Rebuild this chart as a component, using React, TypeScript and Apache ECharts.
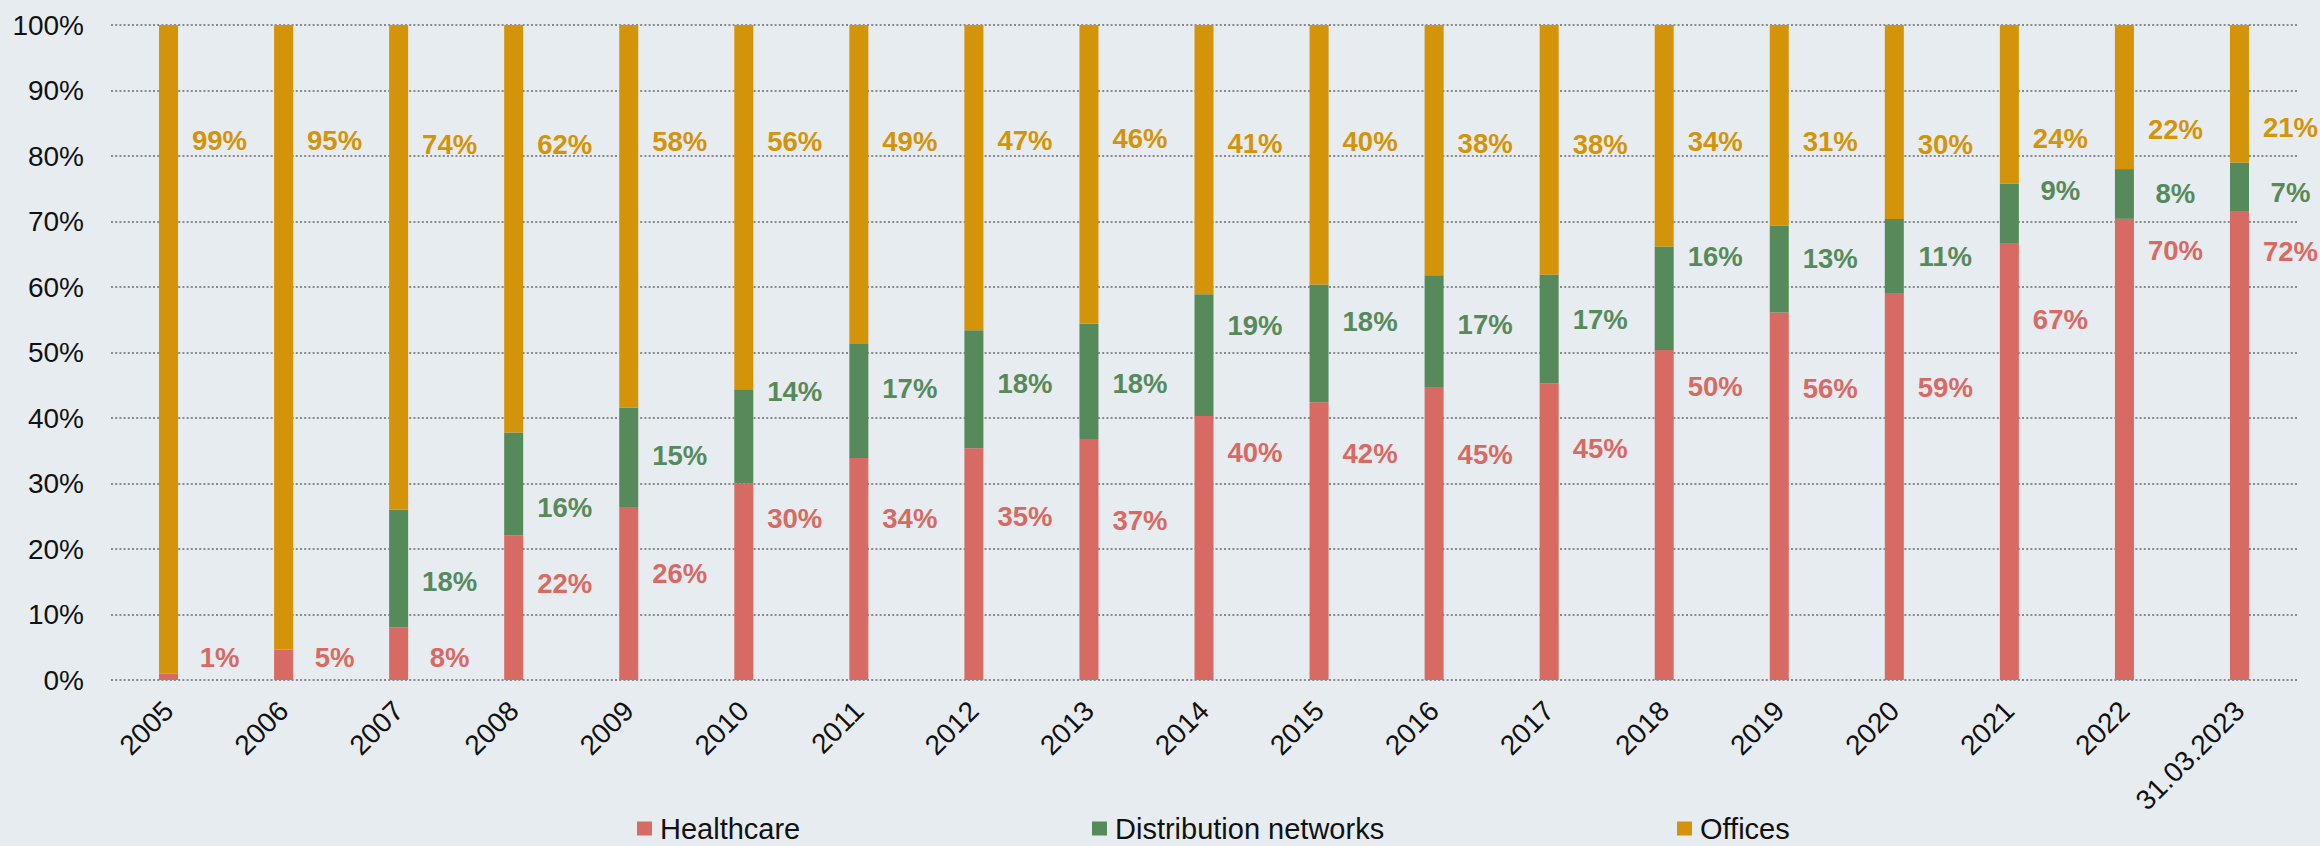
import React, { useEffect, useRef } from "react";
import * as echarts from "echarts";

// ---- Data: portfolio split by segment, share of total (%) ----
const categories = [
  "2005", "2006", "2007", "2008", "2009", "2010", "2011", "2012", "2013", "2014",
  "2015", "2016", "2017", "2018", "2019", "2020", "2021", "2022", "31.03.2023",
];

const healthcare = [
  1.0, 4.6, 8.0, 22.1, 26.4, 30.0, 33.9, 35.4, 36.8, 40.3,
  42.4, 44.6, 45.3, 50.4, 56.1, 59.1, 66.6, 70.4, 71.6,
];

const distributionNetworks = [
  0, 0, 18.0, 15.7, 15.2, 14.4, 17.4, 18.0, 17.6, 18.6,
  18.0, 17.2, 16.6, 15.8, 13.3, 11.3, 9.2, 7.6, 7.4,
];

const offices = [
  99.0, 95.4, 74.0, 62.2, 58.4, 55.6, 48.7, 46.6, 45.6, 41.1,
  39.6, 38.2, 38.1, 33.8, 30.6, 29.6, 24.2, 22.0, 21.0,
];

const yTicks = { min: 0, max: 100, interval: 10 };

// ---- Label placement: height (in axis %) where each value label sits ----
const healthcareLabelRow = [
  3.4, 3.5, 3.5, 14.8, 16.3, 24.7, 24.6, 24.9, 24.4, 34.7,
  34.6, 34.5, 35.3, 44.8, 44.5, 44.6, 55.0, 65.6, 65.4,
];
const distributionLabelRow = [
  null, null, 15.0, 26.4, 34.3, 44.0, 44.5, 45.2, 45.3, 54.1,
  54.7, 54.3, 55.1, 64.6, 64.4, 64.6, 74.7, 74.2, 74.4,
];
const officesLabelRow = [
  82.4, 82.4, 81.7, 81.7, 82.2, 82.2, 82.2, 82.4, 82.6, 81.9,
  82.2, 81.9, 81.7, 82.2, 82.2, 81.7, 82.7, 84.0, 84.4,
];

// ---- Layout & style ----
const WIDTH = 2320;
const HEIGHT = 846;
const GRID_TOP = 25;
const GRID_BOTTOM = 166;
const GRID_LEFT = 111;
const GRID_RIGHT = 23;
const PX_PER_UNIT = (HEIGHT - GRID_TOP - GRID_BOTTOM) / (yTicks.max - yTicks.min);
const BG = "#e7ecf0";
const FONT = "'Liberation Sans', Arial, Helvetica, sans-serif";

const COLORS = {
  healthcare: "#d86a64",
  distribution: "#578a5a",
  offices: "#d3940a",
};

type SeriesDef = {
  name: string;
  values: number[];
  color: string;
  rows: (number | null)[];
};

const seriesDefs: SeriesDef[] = [
  { name: "Healthcare", values: healthcare, color: COLORS.healthcare, rows: healthcareLabelRow },
  { name: "Distribution networks", values: distributionNetworks, color: COLORS.distribution, rows: distributionLabelRow },
  { name: "Offices", values: offices, color: COLORS.offices, rows: officesLabelRow },
];

function buildSeries() {
  return seriesDefs.map((def, k) => {
    const data = def.values.map((v, j) => {
      let base = 0;
      for (let m = 0; m < k; m++) base += seriesDefs[m].values[j];
      const mid = base + v / 2;
      const row = def.rows[j];
      const dy = row == null ? 0 : (mid - row) * PX_PER_UNIT;
      return { value: v, label: { offset: [41.5, dy] } };
    });
    return {
      name: def.name,
      type: "bar",
      stack: "total",
      barWidth: 19,
      itemStyle: { color: def.color },
      label: {
        show: true,
        position: "right",
        distance: 0,
        align: "center",
        verticalAlign: "middle",
        color: def.color,
        fontFamily: FONT,
        fontWeight: "bold",
        fontSize: 27.5,
        formatter: (p: any) => (p.value > 0 ? `${Math.round(p.value)}%` : ""),
      },
      data,
    };
  });
}

const legendCommon = {
  orient: "horizontal",
  top: 814,
  padding: 0,
  icon: "rect",
  itemWidth: 15,
  itemHeight: 14,
  selectedMode: false,
  textStyle: {
    fontFamily: FONT,
    fontSize: 29,
    lineHeight: 29,
    color: "#111111",
    padding: [0, 0, 0, 3],
  },
};

export default function App() {
  const ref = useRef<HTMLDivElement>(null);

  useEffect(() => {
    document.body.style.margin = "0";
    document.body.style.background = BG;
    if (!ref.current) return;
    const chart = echarts.init(ref.current, undefined, { renderer: "svg" });
    chart.setOption({
      animation: false,
      backgroundColor: BG,
      textStyle: { fontFamily: FONT },
      grid: {
        left: GRID_LEFT,
        right: GRID_RIGHT,
        top: GRID_TOP,
        bottom: GRID_BOTTOM,
        containLabel: false,
      },
      legend: [
        { ...legendCommon, data: ["Healthcare"], left: 637 },
        { ...legendCommon, data: ["Distribution networks"], left: 1092 },
        { ...legendCommon, data: ["Offices"], left: 1677 },
      ],
      xAxis: {
        type: "category",
        data: categories,
        axisLine: { show: false },
        axisTick: { show: false },
        axisLabel: {
          interval: 0,
          rotate: 45,
          margin: 26,
          fontFamily: FONT,
          fontSize: 28,
          color: "#111111",
        },
      },
      yAxis: {
        type: "value",
        min: yTicks.min,
        max: yTicks.max,
        interval: yTicks.interval,
        axisLine: { show: false },
        axisTick: { show: false },
        axisLabel: {
          formatter: "{value}%",
          margin: 27,
          fontFamily: FONT,
          fontSize: 28,
          color: "#111111",
        },
        splitLine: {
          show: true,
          lineStyle: { color: "#8a8a8a", width: 2, type: [2, 2.2] },
        },
      },
      series: buildSeries(),
    });
    return () => chart.dispose();
  }, []);

  return <div ref={ref} style={{ width: WIDTH, height: HEIGHT }} />;
}
